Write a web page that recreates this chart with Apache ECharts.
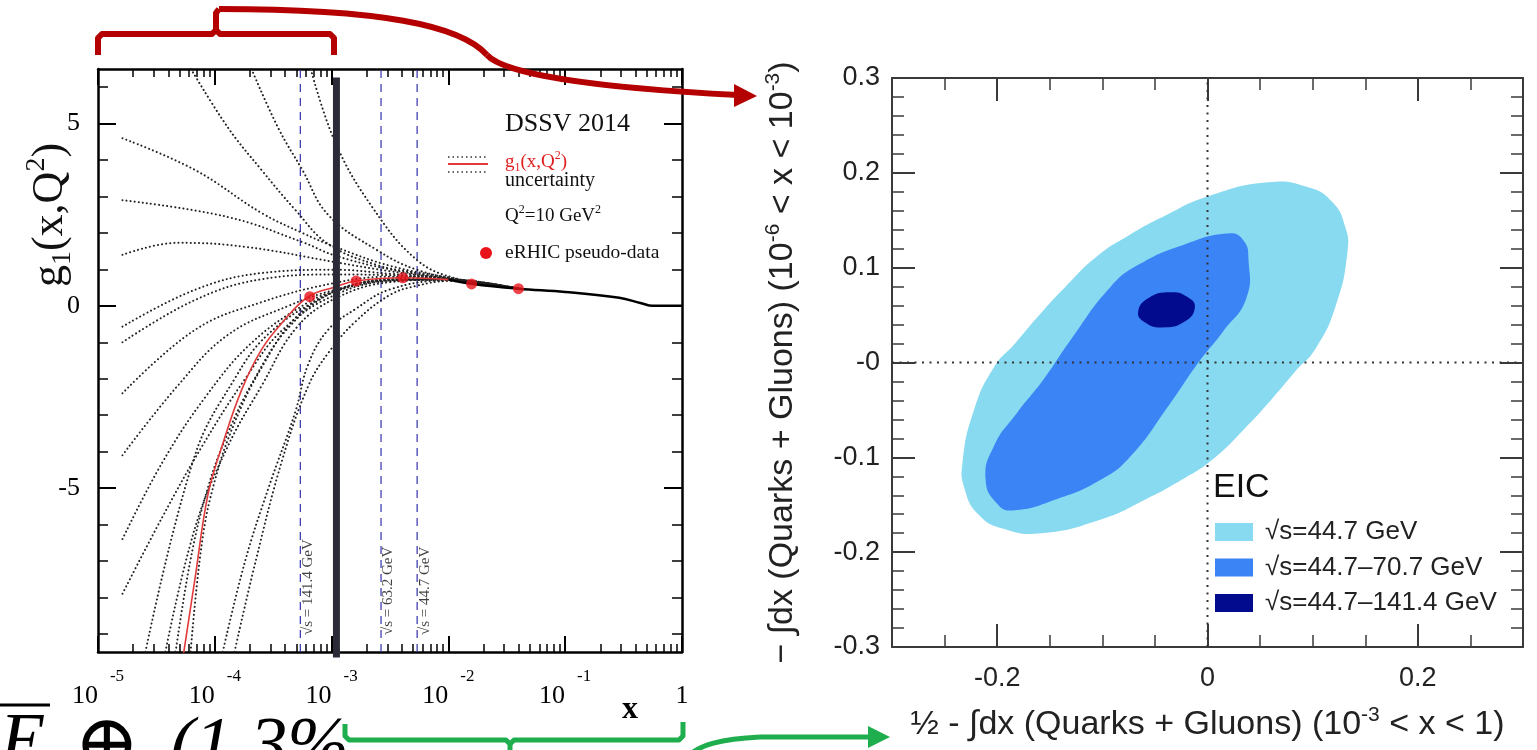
<!DOCTYPE html>
<html><head><meta charset="utf-8">
<script src="https://cdn.jsdelivr.net/npm/echarts@6/dist/echarts.min.js"></script>
<style>html,body{margin:0;padding:0;background:#fff;overflow:hidden}#c{width:1537px;height:750px}</style>
</head><body><div id="c"></div>
<script>
// ================= LEFT PANEL DATA (x, g1) =================
const xLabelValues = [1e-5, 1e-4, 1e-3, 1e-2, 1e-1, 1];
const xMajorTicks = [1e-5, 1e-4, 1e-3, 1e-2, 1e-1, 1];
const xDecades = [1e-5, 1e-4, 1e-3, 1e-2, 1e-1];
const xMultipliers = [2, 3, 4, 5, 6, 7, 8, 9];
const yLeftMajor = [-5, 0, 5];
const yLeftMinor = [-9, -8, -7, -6, -4, -3, -2, -1, 1, 2, 3, 4, 6];

const upperCurves = [
  [[6.0e-5, 6.6], [1.29e-4, 4.9], [2.51e-4, 3.73], [4.90e-4, 2.63], [9.33e-4, 1.7], [2.45e-3, 1.12], [5.37e-3, 0.9], [0.0158, 0.63], [0.04, 0.48]],
  [[2.0e-4, 6.6], [3.47e-4, 4.9], [5.62e-4, 3.73], [9.33e-4, 2.5], [2.45e-3, 1.53], [5.37e-3, 0.99], [0.0158, 0.65], [0.04, 0.48]],
  [[6.5e-4, 6.6], [1.07e-3, 4.5], [2.24e-3, 2.7], [5.37e-3, 1.26], [0.0117, 0.75], [0.04, 0.48]],
  [[1.62e-5, 4.6], [6.76e-5, 3.73], [2.51e-4, 2.55], [5.62e-4, 2.0], [1.07e-3, 1.62], [3.16e-3, 1.1], [0.01, 0.78], [0.04, 0.48]],
  [[1.62e-5, 2.9], [1.29e-4, 2.44], [5.62e-4, 1.75], [1.07e-3, 1.38], [3.16e-3, 1.0], [0.01, 0.75], [0.04, 0.48]],
  [[1.62e-5, 1.4], [4.79e-5, 1.73], [1.82e-4, 1.62], [1.07e-3, 1.2], [3.16e-3, 0.95], [0.01, 0.74], [0.04, 0.48]]
];
const lowerCurves = [
  [[1.62e-5, -0.57], [6.76e-5, 0.44], [2.51e-4, 0.9], [1.07e-3, 0.99], [3.16e-3, 0.88], [0.01, 0.74], [0.04, 0.47]],
  [[1.62e-5, -1.0], [6.76e-5, 0.16], [2.51e-4, 0.73], [1.07e-3, 0.86], [3.16e-3, 0.84], [0.01, 0.72], [0.04, 0.47]],
  [[1.62e-5, -2.4], [6.76e-5, -0.66], [2.51e-4, 0.1], [1.07e-3, 0.63], [3.16e-3, 0.8], [0.01, 0.72], [0.04, 0.47]],
  [[1.62e-5, -4.1], [4.79e-5, -2.2], [1.29e-4, -0.8], [4.27e-4, 0.0], [1.07e-3, 0.44], [3.16e-3, 0.74], [0.01, 0.72], [0.04, 0.47]],
  [[1.62e-5, -6.4], [3.55e-5, -4.3], [8.32e-5, -2.5], [2.09e-4, -1.0], [6.31e-4, 0.1], [1.07e-3, 0.4], [3.16e-3, 0.72], [0.01, 0.72], [0.04, 0.47]],
  [[1.62e-5, -7.9], [3.55e-5, -5.8], [7.76e-5, -3.86], [1.82e-4, -2.0], [3.80e-4, -0.66], [1.07e-3, 0.3], [3.16e-3, 0.68], [0.01, 0.72], [0.04, 0.47]],
  [[2.51e-5, -9.6], [6.76e-5, -4.1], [1.48e-4, -2.0], [2.82e-4, -0.8], [7.94e-4, 0.2], [1.58e-3, 0.55], [5e-3, 0.75], [0.01, 0.72], [0.04, 0.47]],
  [[3.72e-5, -9.6], [6.76e-5, -6.1], [1.29e-4, -3.86], [2.51e-4, -2.2], [5e-4, -0.6], [1.07e-3, 0.2], [3.16e-3, 0.65], [0.01, 0.72], [0.04, 0.47]],
  [[4.57e-5, -9.6], [6.17e-5, -7.0], [8.71e-5, -5.0], [1.29e-4, -3.5], [2.19e-4, -2.0], [4.27e-4, -0.6], [1.07e-3, 0.4], [3.16e-3, 0.7], [0.01, 0.72], [0.04, 0.47]],
  [[6.17e-5, -9.6], [7.76e-5, -6.5], [1.0e-4, -4.8], [1.48e-4, -3.2], [2.51e-4, -1.7], [5e-4, -0.3], [1.07e-3, 0.4], [3.16e-3, 0.7], [0.01, 0.72], [0.04, 0.47]],
  [[1.15e-4, -9.6], [1.82e-4, -7.0], [2.88e-4, -5.0], [4.90e-4, -2.9], [6.31e-4, -1.6], [9.33e-4, -0.66], [1.58e-3, -0.1], [3.16e-3, 0.45], [0.01, 0.7], [0.04, 0.47]],
  [[1.45e-4, -9.6], [2.24e-4, -7.0], [3.80e-4, -4.2], [6.31e-4, -2.2], [9.33e-4, -1.3], [1.58e-3, -0.45], [3.16e-3, 0.3], [5.37e-3, 0.55], [0.01, 0.68], [0.04, 0.47]]
];
const centralCurve = [[0.01, 0.72], [0.0162, 0.6], [0.04, 0.47], [0.1, 0.38], [0.29, 0.22], [0.44, 0.08], [0.56, 0.0], [1, 0.0]];
const g1Curve = [[5.37e-5, -9.6], [6.76e-5, -7.5], [8.71e-5, -5.2], [1.15e-4, -3.86], [1.70e-4, -2.3], [2.51e-4, -1.2], [3.80e-4, -0.45], [6.31e-4, 0.25], [1.07e-3, 0.52], [1.62e-3, 0.68], [4.07e-3, 0.77], [0.01, 0.72]];
const pseudoData = [[6.5e-4, 0.25], [1.62e-3, 0.68], [4.07e-3, 0.77], [0.0158, 0.6], [0.0398, 0.47]];
const sqrtSLineX = [5.4e-4, 2.65e-3, 5.4e-3];
const sqrtSLabels = ['√s = 141.4 GeV', '√s = 63.2 GeV', '√s = 44.7 GeV'];
const sqrtSLabelY = -9.2;
const cutLineX = 1.1e-3;
const cutLineY = [-9.65, 6.27];
const leftYRange = [-9.5, 6.5];

// ================= RIGHT PANEL DATA =================
const rxMajor = [-0.2, 0, 0.2];
const rxMinor = [-0.25, -0.15, -0.1, -0.05, 0.05, 0.1, 0.15, 0.25];
const ryMajor = [-0.3, -0.2, -0.1, 0, 0.1, 0.2, 0.3];
const ryMinor = [-0.28, -0.26, -0.24, -0.22, -0.18, -0.16, -0.14, -0.12, -0.08, -0.06, -0.04, -0.02,
                 0.02, 0.04, 0.06, 0.08, 0.12, 0.14, 0.16, 0.18, 0.22, 0.24, 0.26, 0.28];
const legendNames = ['√s=44.7 GeV', '√s=44.7–70.7 GeV', '√s=44.7–141.4 GeV'];
const contour447 = [
  [0.133, 0.116], [0.131, 0.143], [0.118, 0.170], [0.095, 0.185], [0.058, 0.190], [0.0, 0.175],
  [-0.040, 0.155], [-0.075, 0.134], [-0.105, 0.112], [-0.135, 0.080], [-0.160, 0.050], [-0.183, 0.020],
  [-0.203, -0.005], [-0.222, -0.050], [-0.233, -0.106], [-0.231, -0.133], [-0.218, -0.160], [-0.195, -0.175],
  [-0.158, -0.180], [-0.100, -0.165], [-0.060, -0.145], [-0.025, -0.124], [0.005, -0.102], [0.035, -0.070],
  [0.060, -0.040], [0.083, -0.010], [0.103, 0.015], [0.122, 0.060]];
const contour707 = [
  [0.039, 0.108], [0.034, 0.129], [0.019, 0.136], [-0.023, 0.124], [-0.064, 0.104], [-0.092, 0.080],
  [-0.130, 0.024], [-0.156, -0.018], [-0.181, -0.053], [-0.203, -0.088], [-0.211, -0.123], [-0.200, -0.149],
  [-0.185, -0.156], [-0.143, -0.144], [-0.102, -0.124], [-0.074, -0.100], [-0.036, -0.044], [-0.010, -0.002],
  [0.015, 0.033], [0.037, 0.068]];
const contour1414 = [[-0.066, 0.053], [-0.056, 0.068], [-0.035, 0.074], [-0.019, 0.069], [-0.012, 0.058],
  [-0.022, 0.043], [-0.043, 0.037], [-0.059, 0.042]];
const zeroLineV = [[0, -0.3], [0, 0.3]];
const zeroLineH = [[-0.3, 0], [0.3, 0]];

// ================= STYLE =================
const SERIF = '"Liberation Serif", "Times New Roman", serif';
const SANS = '"Liberation Sans", Arial, Helvetica, sans-serif';
const C_LIGHT = '#87daf0', C_MED = '#3a84f5', C_DARK = '#020b8e';
const RED_ANN = '#b40000', GREEN_ANN = '#1fae4e';

const xMinorTicks = [];
xDecades.forEach(d => xMultipliers.forEach(m => xMinorTicks.push(+(d * m).toPrecision(3))));

function logX(position, ticks, len, showLine, showLabel) {
  return {
    type: 'log', logBase: 10, gridIndex: 0, min: 1e-5, max: 1, position,
    axisLine: {show: showLine, onZero: false, lineStyle: {color: '#000', width: 2.5}},
    axisTick: {show: true, inside: true, length: len, customValues: ticks, lineStyle: {color: '#000', width: len > 10 ? 2 : 1.5}},
    axisLabel: showLabel ? {
      show: true, customValues: xLabelValues, margin: 16,
      formatter: v => (Math.abs(v - 1) < 1e-9) ? '{b|1}' : '{b|10}{s|' + Math.round(Math.log10(v)) + '}',
      rich: {
        b: {fontFamily: SERIF, fontSize: 26, lineHeight: 56, color: '#000'},
        s: {fontFamily: SERIF, fontSize: 17, lineHeight: 18, verticalAlign: 'top', padding: [0, 0, 0, 12], color: '#000'}
      }
    } : {show: false},
    splitLine: {show: false}, minorTick: {show: false}
  };
}
function linAxis(grid, position, range, ticks, len, showLine, labelVals, fmt, labelStyle, lineStyle) {
  return {
    type: 'value', gridIndex: grid, min: range[0], max: range[1], position,
    axisLine: {show: showLine, onZero: false, lineStyle: lineStyle},
    axisTick: {show: true, inside: true, length: len, customValues: ticks, lineStyle: {color: lineStyle.color, width: len > 14 ? 2 : 1.5}},
    axisLabel: labelVals ? Object.assign({show: true, customValues: labelVals, formatter: fmt}, labelStyle) : {show: false},
    splitLine: {show: false}, minorTick: {show: false}
  };
}

const leftLine = {color: '#000', width: 2.5};
const rightLine = {color: '#3a3a3a', width: 2};
const leftLabel = {fontFamily: SERIF, fontSize: 26, color: '#000', margin: 18};
const rightLabelY = {fontFamily: SANS, fontSize: 27, color: '#222', margin: 12};
const rightLabelX = {fontFamily: SANS, fontSize: 27, color: '#222', margin: 18};
const nameStyle = {fontFamily: SANS, fontSize: 34, color: '#222', lineHeight: 40,
  rich: {sup: {fontFamily: SANS, fontSize: 21, lineHeight: 20, verticalAlign: 'top', color: '#222'}}};

const xAxes = [
  logX('bottom', xMajorTicks, 16, true, true),
  logX('top', xMajorTicks, 16, true, false),
  logX('top', xMinorTicks, 8, false, false),
  logX('bottom', xMinorTicks, 8, false, false),
  Object.assign(linAxis(1, 'bottom', [-0.3, 0.3], rxMajor, 23, true, rxMajor, v => v === 0 ? '0' : v.toFixed(1), rightLabelX, rightLine), {
    name: '½ - ∫dx (Quarks + Gluons) (10{sup|-3} < x < 1)', nameLocation: 'middle', nameGap: 58, nameTextStyle: nameStyle
  }),
  linAxis(1, 'top', [-0.3, 0.3], rxMajor, 23, true, null, null, null, rightLine),
  linAxis(1, 'top', [-0.3, 0.3], rxMinor, 12, false, null, null, null, rightLine),
  linAxis(1, 'bottom', [-0.3, 0.3], rxMinor, 12, false, null, null, null, rightLine)
];
const yAxes = [
  linAxis(0, 'left', leftYRange, yLeftMajor, 18, true, yLeftMajor, v => String(v), leftLabel, leftLine),
  linAxis(0, 'right', leftYRange, yLeftMajor, 18, true, null, null, null, leftLine),
  linAxis(0, 'right', leftYRange, yLeftMinor, 10, false, null, null, null, leftLine),
  linAxis(0, 'left', leftYRange, yLeftMinor, 10, false, null, null, null, leftLine),
  Object.assign(linAxis(1, 'left', [-0.3, 0.3], ryMajor, 23, true, ryMajor, v => v === 0 ? '-0' : v.toFixed(1), rightLabelY, rightLine), {
    name: '− ∫dx (Quarks + Gluons) (10{sup|-6} < x < 10{sup|-3})', nameLocation: 'middle', nameGap: 89, nameTextStyle: nameStyle
  }),
  linAxis(1, 'right', [-0.3, 0.3], ryMajor, 23, true, null, null, null, rightLine),
  linAxis(1, 'right', [-0.3, 0.3], ryMinor, 12, false, null, null, null, rightLine),
  linAxis(1, 'left', [-0.3, 0.3], ryMinor, 12, false, null, null, null, rightLine)
];

const dotStyle = {color: '#222', width: 2, type: [0.1, 4], cap: 'round'};
const series = [];
upperCurves.concat(lowerCurves).forEach(c => series.push({
  type: 'line', xAxisIndex: 0, yAxisIndex: 0, data: c, smooth: 0.4, symbol: 'none',
  lineStyle: dotStyle, z: 2, silent: true, clip: true
}));
series.push({type: 'line', xAxisIndex: 0, yAxisIndex: 0, data: centralCurve, smooth: 0.4, symbol: 'none',
  lineStyle: {color: '#000', width: 2.5}, z: 3, silent: true});
series.push({type: 'line', xAxisIndex: 0, yAxisIndex: 0, data: g1Curve, smooth: 0.4, symbol: 'none',
  lineStyle: {color: '#e03a3a', width: 1.6}, z: 4, silent: true, clip: true});
sqrtSLineX.forEach((x, i) => {
  series.push({type: 'line', xAxisIndex: 0, yAxisIndex: 0, data: [[x, leftYRange[0]], [x, leftYRange[1]]], symbol: 'none',
    lineStyle: {color: '#4040b0', width: 1.3, type: [8, 6]}, z: 1, silent: true});
  series.push({type: 'scatter', xAxisIndex: 0, yAxisIndex: 0, data: [[x, sqrtSLabelY]], symbolSize: 0, silent: true, z: 6,
    label: {show: true, formatter: sqrtSLabels[i], position: 'inside', offset: [6, 0], rotate: 90, align: 'left', verticalAlign: 'top',
      fontFamily: SERIF, fontSize: 15, color: '#111'}});
});
series.push({type: 'line', xAxisIndex: 0, yAxisIndex: 0, data: [[cutLineX, cutLineY[0]], [cutLineX, cutLineY[1]]], symbol: 'none',
  lineStyle: {color: '#2b2b38', width: 7}, z: 5, silent: true, clip: false});
series.push({type: 'scatter', xAxisIndex: 0, yAxisIndex: 0, data: pseudoData, symbolSize: 11,
  itemStyle: {color: '#e8141a'}, z: 7, silent: true});

function polyRender(pts, color) {
  return (params, api) => ({type: 'polygon', shape: {points: pts.map(p => api.coord(p)), smooth: 0.5}, style: {fill: color}});
}
[[contour447, C_LIGHT, 2], [contour707, C_MED, 3], [contour1414, C_DARK, 4]].forEach((c, i) => series.push({
  type: 'custom', name: legendNames[i], xAxisIndex: 4, yAxisIndex: 4, z: c[2], itemStyle: {color: c[1]},
  data: [c[0][0]], renderItem: polyRender(c[0], c[1]), silent: true
}));
[zeroLineV, zeroLineH].forEach(d => series.push({type: 'line', xAxisIndex: 4, yAxisIndex: 4, data: d, symbol: 'none',
  lineStyle: {color: '#333', width: 2, type: [2, 5.5]}, z: 6, silent: true}));

const graphic = [
  // left panel legend
  {type: 'text', x: 505, y: 124, z: 50, style: {text: 'DSSV 2014', fontFamily: SERIF, fontSize: 26, fill: '#111', verticalAlign: 'middle'}},
  {type: 'line', z: 50, shape: {x1: 448, y1: 157, x2: 488, y2: 157}, style: {stroke: '#333', lineWidth: 1.5, lineDash: [1.5, 3]}},
  {type: 'line', z: 50, shape: {x1: 448, y1: 164, x2: 488, y2: 164}, style: {stroke: '#e03a3a', lineWidth: 2}},
  {type: 'line', z: 50, shape: {x1: 448, y1: 172, x2: 488, y2: 172}, style: {stroke: '#333', lineWidth: 1.5, lineDash: [1.5, 3]}},
  {type: 'text', x: 505, y: 162, z: 50, style: {text: '{g|g}{sub|1}{g|(x,Q}{sup|2}{g|)}', verticalAlign: 'middle',
    rich: {g: {fontFamily: SERIF, fontSize: 19, lineHeight: 24, fill: '#e02020'},
      sub: {fontFamily: SERIF, fontSize: 12, lineHeight: 12, verticalAlign: 'bottom', fill: '#e02020'},
      sup: {fontFamily: SERIF, fontSize: 12, lineHeight: 12, verticalAlign: 'top', fill: '#e02020'}}}},
  {type: 'text', x: 505, y: 181, z: 50, style: {text: 'uncertainty', fontFamily: SERIF, fontSize: 20, fill: '#111', verticalAlign: 'middle'}},
  {type: 'text', x: 505, y: 216, z: 50, style: {text: '{n|Q}{sup|2}{n|=10 GeV}{sup|2}', verticalAlign: 'middle',
    rich: {n: {fontFamily: SERIF, fontSize: 19, lineHeight: 24, fill: '#111'},
      sup: {fontFamily: SERIF, fontSize: 12, lineHeight: 12, verticalAlign: 'top', fill: '#111'}}}},
  {type: 'circle', z: 50, shape: {cx: 486, cy: 253, r: 6}, style: {fill: '#e8141a'}},
  {type: 'text', x: 505, y: 253, z: 50, style: {text: 'eRHIC pseudo-data', fontFamily: SERIF, fontSize: 19.5, fill: '#111', verticalAlign: 'middle'}},
  // left axis titles
  {type: 'text', x: 630, y: 710, z: 50, style: {text: 'x', fontFamily: SERIF, fontSize: 32, fontWeight: 'bold', fill: '#000', align: 'center', verticalAlign: 'middle'}},
  {type: 'text', x: 50, y: 215, rotation: Math.PI / 2, z: 50, style: {text: '{a|g}{s|1}{a|(x,Q}{p|2}{a|)}', align: 'center', verticalAlign: 'middle',
    rich: {a: {fontFamily: SERIF, fontSize: 44, lineHeight: 54, fill: '#111'},
      s: {fontFamily: SERIF, fontSize: 28, lineHeight: 28, verticalAlign: 'bottom', fill: '#111'},
      p: {fontFamily: SERIF, fontSize: 28, lineHeight: 28, verticalAlign: 'top', fill: '#111'}}}},
  // right legend title
  {type: 'text', x: 1213, y: 488, z: 50, style: {text: 'EIC', fontFamily: SANS, fontSize: 34, fill: '#111', verticalAlign: 'middle'}},
  // red annotation
  {type: 'polyline', z: 60, shape: {points: [[98, 55], [98, 38], [102, 34], [212, 34], [216, 30], [216, 13], [219, 9]]}, style: {stroke: RED_ANN, lineWidth: 6, fill: null, lineJoin: 'round'}},
  {type: 'polyline', z: 60, shape: {points: [[216, 30], [220, 34], [330, 34], [334, 38], [334, 55]]}, style: {stroke: RED_ANN, lineWidth: 6, fill: null, lineJoin: 'round'}},
  {type: 'bezierCurve', z: 60, shape: {x1: 219, y1: 9, cpx1: 380, cpy1: 9, cpx2: 460, cpy2: 25, x2: 487, y2: 55}, style: {stroke: RED_ANN, lineWidth: 6, fill: null}},
  {type: 'bezierCurve', z: 60, shape: {x1: 487, y1: 55, cpx1: 505, cpy1: 75, cpx2: 600, cpy2: 88, x2: 738, y2: 95}, style: {stroke: RED_ANN, lineWidth: 6, fill: null}},
  {type: 'polygon', z: 60, shape: {points: [[734, 84], [757, 96], [734, 107]]}, style: {fill: RED_ANN}},
  // green annotation
  {type: 'polyline', z: 60, shape: {points: [[345, 724], [345, 736], [349, 740], [506, 740], [510, 744], [510, 752]]}, style: {stroke: GREEN_ANN, lineWidth: 5, fill: null, lineJoin: 'round'}},
  {type: 'polyline', z: 60, shape: {points: [[510, 744], [514, 740], [679, 740], [683, 736], [683, 722]]}, style: {stroke: GREEN_ANN, lineWidth: 5, fill: null, lineJoin: 'round'}},
  {type: 'bezierCurve', z: 60, shape: {x1: 688, y1: 756, cpx1: 700, cpy1: 745, cpx2: 720, cpy2: 739, x2: 760, y2: 737}, style: {stroke: GREEN_ANN, lineWidth: 5, fill: null}},
  {type: 'line', z: 60, shape: {x1: 760, y1: 737, x2: 872, y2: 737}, style: {stroke: GREEN_ANN, lineWidth: 5}},
  {type: 'polygon', z: 60, shape: {points: [[868, 726], [890, 737], [868, 748]]}, style: {fill: GREEN_ANN}},
  // partial formula text at bottom-left
  {type: 'text', x: 0, y: 708, z: 60, style: {text: 'E', fontFamily: SERIF, fontStyle: 'italic', fontSize: 74, fill: '#000', verticalAlign: 'top'}},
  {type: 'text', x: 74, y: 710, z: 60, style: {text: '⊕', fontFamily: '"DejaVu Serif", serif', fontSize: 78, fill: '#000', verticalAlign: 'top'}},
  {type: 'text', x: 170, y: 712, z: 60, style: {text: '(1.3%', fontFamily: SERIF, fontStyle: 'italic', fontSize: 74, fill: '#000', verticalAlign: 'top'}},
  {type: 'line', z: 60, shape: {x1: 0, y1: 705, x2: 50, y2: 705}, style: {stroke: '#000', lineWidth: 3}}
];

const chart = echarts.init(document.getElementById('c'));
chart.setOption({
  animation: false,
  backgroundColor: '#fff',
  grid: [
    {left: 98, top: 69, width: 584, height: 583},
    {left: 892, top: 78, width: 631, height: 571}
  ],
  xAxis: xAxes,
  yAxis: yAxes,
  legend: {
    data: legendNames, left: 1210, top: 514, orient: 'vertical', icon: 'rect',
    itemWidth: 38, itemHeight: 18, itemGap: 9.5, selectedMode: false,
    textStyle: {fontFamily: SANS, fontSize: 26, color: '#222', padding: [0, 0, 0, 7]}
  },
  series,
  graphic
});
</script>
</body></html>
